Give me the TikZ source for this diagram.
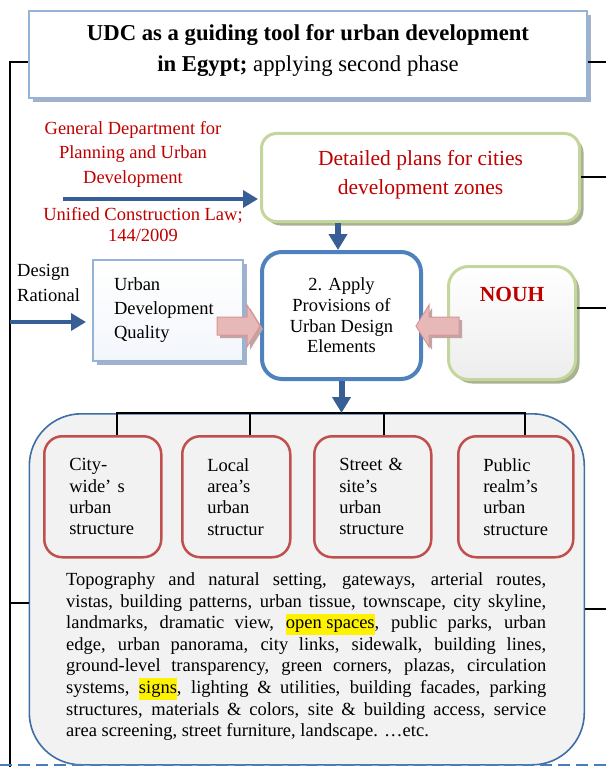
\documentclass[tikz,border=0pt]{standalone}
\usepackage{fontspec}
\setmainfont{Liberation Serif}
\usetikzlibrary{arrows.meta,calc}

\definecolor{frameblue}{HTML}{95B3D7}
\definecolor{shadeblue}{HTML}{A3B2C8}
\definecolor{udqshade}{HTML}{F3F6FB}
\definecolor{leafgreen}{HTML}{C3D69B}
\definecolor{shadegreen}{HTML}{A8B292}
\definecolor{nouhshade}{HTML}{EDEDED}
\definecolor{accentblue}{HTML}{4F81BD}
\definecolor{arrowblue}{HTML}{375F95}
\definecolor{panelblue}{HTML}{3F6DA6}
\definecolor{boxred}{HTML}{C0504D}
\definecolor{textred}{HTML}{C00000}
\definecolor{panelgray}{HTML}{F2F2F2}
\definecolor{pinkfill}{HTML}{E6B9B8}
\definecolor{pinkline}{HTML}{D99694}
\definecolor{pinkshade}{HTML}{C4A3A3}
\definecolor{dashblue}{HTML}{4A7EBB}

\newcommand\udcfont[2]{\fontsize{#1pt}{#2pt}\selectfont}
\newcommand\marker[1]{{\setlength{\fboxsep}{0pt}\colorbox{yellow}{\strut #1}}}

\tikzset{
  conn/.style={draw=black, line width=2pt},
  flowthin/.style={draw=arrowblue, line width=3.5pt, -{Triangle[length=15pt,width=17pt]}},
  flowthick/.style={draw=arrowblue, line width=6pt, -{Triangle[length=16pt,width=18pt]}},
  shadowed/.style={preaction={fill=#1, transform canvas={shift={(4pt,-4pt)}}}},
  blockarrow/.style={fill=pinkfill, draw=pinkline, line width=1pt, line join=miter,
    preaction={fill=pinkshade, transform canvas={shift={(3pt,-3pt)}}}},
  scalebox/.style={draw=boxred, line width=2.5pt, rounded corners=18pt, fill=panelgray,
    minimum height=121pt, inner xsep=25pt, inner ysep=0pt, align=left, anchor=north west,
    font=\udcfont{18.5}{21.3}},
}

\begin{document}
\begin{tikzpicture}[x=1pt,y=-1pt]
\useasboundingbox (0,0) rectangle (606,767);

% title banner
\node[draw=frameblue, line width=2pt, fill=white, shadowed=shadeblue,
      minimum width=558pt, minimum height=87pt, anchor=north west, inner sep=0pt] (title) at (28,10) {};
\node[align=center, inner sep=0pt, font=\udcfont{22.7}{31}] (titletext) at ([yshift=4pt]title.center)
  {\textbf{UDC as a guiding tool for urban development}\\\textbf{in Egypt;} applying second phase};

% authorities feeding the detailed plans
\node[inner sep=0pt, align=center, text=textred, font=\udcfont{18.5}{24.5}] (gdpu) at (133,154.2)
  {General Department for\\Planning and Urban\\Development};
\node[inner sep=0pt, align=center, text=textred, font=\udcfont{18.5}{21}] (law) at (143,225)
  {Unified Construction Law;\\144/2009};

\node[draw=leafgreen, line width=3pt, rounded corners=15pt, fill=white, shadowed=shadegreen,
      minimum width=318pt, minimum height=88pt, anchor=north west] (detailed) at (260,132) {};
\node[align=center, inner sep=0pt, text=textred, font=\udcfont{21.5}{28.5}] (detailedtext)
  at ([yshift=3pt]detailed.center) {Detailed plans for cities\\development zones};

% central step
\node[draw=accentblue, line width=4pt, rounded corners=20pt, fill=white,
      minimum width=159pt, minimum height=127pt, anchor=north west, align=center,
      font=\udcfont{18.5}{20.7}] (apply) at (260,250)
  {2. Apply\\Provisions of\\Urban Design\\Elements};

\node[draw=frameblue, line width=2pt, top color=white, bottom color=udqshade, shadowed=shadeblue,
      minimum height=101pt, text width=108pt, inner xsep=21pt, inner ysep=0pt,
      anchor=north west, align=left, font=\udcfont{18.5}{24}] (udq) at (92,259)
  {Urban\\Development\\Quality};

\node[anchor=north west, align=left, inner sep=0pt, font=\udcfont{18.5}{25}] (rational) at (17,264.4)
  {Design\\Rational};

\node[draw=leafgreen, line width=3pt, rounded corners=20pt, top color=white, bottom color=nouhshade,
      shadowed=shadegreen, minimum width=127pt, inner sep=0pt, text height=35pt, text depth=78pt,
      anchor=north west, text=textred, font=\bfseries\udcfont{21.5}{25}] (nouh) at (447,265)
  {NOUH};

% scales of urban structure
\node[draw=panelblue, line width=1.6pt, fill=panelgray, rounded corners=52pt,
      minimum width=555pt, minimum height=351pt, anchor=north west] (panel) at (28.5,413) {};

\node[scalebox, text width=67pt] (b1) at (43,435) {City-\\wide’ s\\urban\\structure};
\node[scalebox, text width=58pt] (b2) at (181,435) {Local\\area’s\\urban\\structur};
\node[scalebox, text width=67pt] (b3) at (313,435) {Street \&\\site’s\\urban\\structure};
\node[scalebox, text width=65pt] (b4) at (457,435) {Public\\realm’s\\urban\\structure};

\node[anchor=north west, text width=480pt, align=justify, inner sep=0pt,
      font=\udcfont{18.5}{21.6}] (desc) at (66,572.4)
  {Topography and natural setting, gateways, arterial routes,\linebreak
   vistas, building patterns, urban tissue, townscape, city skyline,\linebreak
   landmarks, dramatic view, \marker{open spaces}, public parks, urban\linebreak
   edge, urban panorama, city links, sidewalk, building lines,\linebreak
   ground-level transparency, green corners, plazas, circulation\linebreak
   systems, \marker{signs}, lighting \& utilities, building facades, parking\linebreak
   structures, materials \& colors, site \& building access, service\linebreak
   area screening, street furniture, landscape. …etc.};

% bracket joining the four scales
\draw[conn] ([xshift=14.5pt]b1.north) -- ++(0,-22) -| ([xshift=9.5pt]b4.north);
\draw[conn] ([xshift=14pt]b2.north) -- ++(0,-22);
\draw[conn] ([xshift=11.5pt]b3.north) -- ++(0,-22);

% spine and side links
\coordinate (spinetop) at (10,62);
\coordinate (spinebot) at (10,767);
\coordinate (rtop) at (606,62);
\coordinate (nouhlink) at (606,308);
\coordinate (panellinkL) at (10,603);
\coordinate (panellinkR) at (606,609);
\draw[conn] (title.west |- spinetop) -- (spinetop) -- (spinebot);
\draw[conn] (title.east |- spinetop) -- (rtop);
\draw[conn] (detailed.east) -- (detailed.east -| rtop);
\draw[conn] (nouh.east |- nouhlink) -- (nouhlink);
\draw[conn] (panellinkL) -- (panel.west |- panellinkL);
\draw[conn] (panel.east |- panellinkR) -- (panellinkR);

% flow arrows
\coordinate (gdtail) at (63,199);
\coordinate (dropx) at (338,0);
\coordinate (spinearrow) at (10,322);
\draw[flowthin] (gdtail) -- ([xshift=-2pt]detailed.west |- gdtail);
\draw[flowthick] (detailed.south -| dropx) -- (apply.north -| dropx);
\draw[flowthick] (apply.south) -- (apply.south |- panel.north);
\draw[flowthin] (spinearrow) -- ([xshift=-6pt]udq.west |- spinearrow);

% block arrows into the central step
\coordinate (tipR) at (apply.west |- 0,326);
\coordinate (tipL) at (416,326);
\draw[blockarrow] (tipR) -- ++(-13,-21) -- ++(0,12) -- ++(-30,0) -- ++(0,18) -- ++(30,0) -- ++(0,12) -- cycle;
\draw[blockarrow] (tipL) -- ++(13,-21) -- ++(0,12) -- ++(30,0) -- ++(0,18) -- ++(-30,0) -- ++(0,12) -- cycle;

% dashed rule along the foot
\coordinate (dashL) at (0,765);
\coordinate (dashR) at (606,765);
\draw[dashblue, line width=2.5pt, dash pattern=on 12pt off 6pt] (dashL) -- (dashR);
\end{tikzpicture}
\end{document}
